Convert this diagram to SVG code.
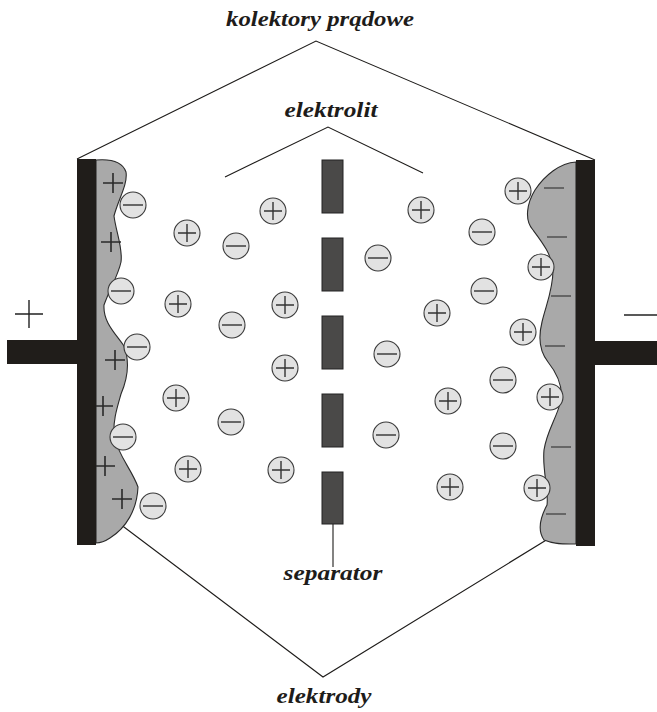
<svg xmlns="http://www.w3.org/2000/svg" width="657" height="712" viewBox="0 0 657 712">
  <defs>
    <style>
      .lbl { font-family: "Liberation Serif", "Times New Roman", serif; font-weight: bold; font-style: italic; font-size: 22px; fill: #1e1c1a; text-anchor: middle; }
      .lead { fill: none; stroke: #1e1c1a; stroke-width: 1.1; }
      .collector { fill: #201d1a; }
      .electrode { fill: #a9a9a9; stroke: #2a2a2a; stroke-width: 1.1; }
      .sep { fill: #4a4948; stroke: #222; stroke-width: 1; }
      .ion { fill: #e2e2e2; stroke: #3a3a3a; stroke-width: 1.1; }
      .sign { stroke: #333; stroke-width: 1.4; fill: none; }
      .charge { stroke: #2a2a2a; stroke-width: 1.6; fill: none; }
      .chargeNeg { stroke: #555; stroke-width: 1.6; fill: none; }
    </style>
    <g id="cation">
      <circle class="ion" r="13"/>
      <path class="sign" d="M-9 0H9M0 -9V9"/>
    </g>
    <g id="anion">
      <circle class="ion" r="13"/>
      <path class="sign" d="M-10 0H10"/>
    </g>
    <path id="plusMark" class="charge" d="M-10 0H10M0 -10V10"/>
    <path id="minusMark" class="chargeNeg" d="M-10 0H10"/>
  </defs>

  <rect width="657" height="712" fill="#ffffff"/>

  <!-- leader lines -->
  <g id="connectors">
    <polyline class="lead" points="77,159 316,41 595,160"/>
    <polyline class="lead" points="225,177 328,127 423,173"/>
    <line class="lead" x1="333" y1="524" x2="333" y2="567"/>
    <polyline class="lead" points="116,521 323,677 561,531"/>
  </g>

  <!-- positive electrode (left) -->
  <g id="electrode-left">
    <path class="electrode" d="M96 160 C108 159 122 160 126 172 C128 184 118 200 114 216 C116 232 123 248 121 262 C118 276 110 288 104 305 C103 322 115 333 124 346 C130 362 127 380 121 394 C117 408 113 420 114 436 C118 455 132 470 138 487 C137 510 126 528 110 538 C104 542 100 543 96 543 Z"/>
    <use href="#plusMark" x="113" y="183"/>
    <use href="#plusMark" x="111" y="242"/>
    <use href="#plusMark" x="115" y="360"/>
    <use href="#plusMark" x="103" y="406"/>
    <use href="#plusMark" x="105" y="466"/>
    <use href="#plusMark" x="122" y="499"/>
  </g>
  <g id="collector-left">
    <rect class="collector" x="77" y="159" width="19" height="386"/>
    <rect class="collector" x="7" y="340" width="89" height="24"/>
    <path class="sign" d="M15 314H43M29 300V328" style="stroke:#222"/>
  </g>

  <!-- negative electrode (right) -->
  <g id="electrode-right">
    <path class="electrode" d="M576 162 C560 163 545 175 535 190 C527 203 524 220 533 230 C542 242 552 255 553 270 C553 290 546 305 542 322 C538 338 540 352 548 362 C556 372 563 385 561 400 C557 418 547 430 544 450 C542 470 549 490 547 505 C540 518 537 530 544 540 C556 545 566 544 576 544 Z"/>
    <use href="#minusMark" x="554" y="188"/>
    <use href="#minusMark" x="557" y="237"/>
    <use href="#minusMark" x="561" y="296"/>
    <use href="#minusMark" x="555" y="346"/>
    <use href="#minusMark" x="561" y="447"/>
    <use href="#minusMark" x="556" y="514"/>
  </g>
  <g id="collector-right">
    <rect class="collector" x="576" y="160" width="19" height="386"/>
    <rect class="collector" x="576" y="341" width="81" height="24"/>
    <path class="sign" d="M624 315H657" style="stroke:#222"/>
  </g>

  <!-- separator -->
  <g id="separator">
    <rect class="sep" x="322" y="160" width="21" height="53"/>
    <rect class="sep" x="322" y="238" width="21" height="53"/>
    <rect class="sep" x="322" y="316" width="21" height="53"/>
    <rect class="sep" x="322" y="394" width="21" height="53"/>
    <rect class="sep" x="322" y="472" width="21" height="52"/>
  </g>

  <!-- ions in the electrolyte -->
  <g id="ions">
    <use href="#anion" x="133" y="205"/>
    <use href="#anion" x="121" y="291"/>
    <use href="#anion" x="137" y="347"/>
    <use href="#anion" x="123" y="437"/>
    <use href="#anion" x="153" y="506"/>

    <use href="#cation" x="187" y="233"/>
    <use href="#anion" x="236" y="246"/>
    <use href="#cation" x="273" y="211"/>
    <use href="#cation" x="178" y="304"/>
    <use href="#anion" x="232" y="325"/>
    <use href="#cation" x="285" y="305"/>
    <use href="#cation" x="285" y="368"/>
    <use href="#cation" x="176" y="398"/>
    <use href="#anion" x="231" y="422"/>
    <use href="#cation" x="188" y="469"/>
    <use href="#cation" x="281" y="470"/>

    <use href="#cation" x="421" y="210"/>
    <use href="#anion" x="482" y="232"/>
    <use href="#anion" x="378" y="258"/>
    <use href="#anion" x="484" y="291"/>
    <use href="#cation" x="437" y="313"/>
    <use href="#anion" x="387" y="354"/>
    <use href="#cation" x="448" y="401"/>
    <use href="#anion" x="386" y="435"/>
    <use href="#cation" x="450" y="487"/>
    <use href="#anion" x="503" y="380"/>
    <use href="#anion" x="503" y="446"/>

    <use href="#cation" x="518" y="191"/>
    <use href="#cation" x="541" y="267"/>
    <use href="#cation" x="523" y="332"/>
    <use href="#cation" x="550" y="397"/>
    <use href="#cation" x="537" y="488"/>
  </g>

  <!-- labels -->
  <g id="labels">
    <text class="lbl" x="320" y="26" textLength="188" lengthAdjust="spacingAndGlyphs">kolektory prądowe</text>
    <text class="lbl" x="331" y="117" textLength="93" lengthAdjust="spacingAndGlyphs">elektrolit</text>
    <text class="lbl" x="333" y="580" textLength="99" lengthAdjust="spacingAndGlyphs">separator</text>
    <text class="lbl" x="324" y="703" textLength="95" lengthAdjust="spacingAndGlyphs">elektrody</text>
  </g>
</svg>
